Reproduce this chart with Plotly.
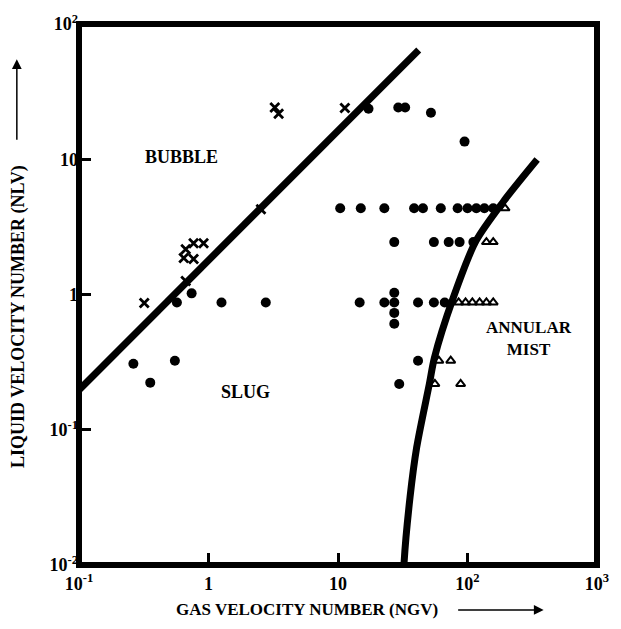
import plotly.graph_objects as go

# ---- data (NGV = gas velocity number, NLV = liquid velocity number)
slug_ngv = [0.263, 0.355, 0.55, 0.57, 0.741, 1.26, 2.77,
            14.7, 22.8, 27.2, 27.2, 27.2, 27.2, 41.5, 55.0, 66.7,
            41.5, 29.7,
            27.2, 55.0, 71.6, 86.9, 111,
            10.4, 15.0, 22.8, 38.7, 45.3, 62.2, 83.9, 100, 117, 135, 158,
            17.2, 29.2, 33.0, 52.2, 94.9]
slug_nlv = [0.308, 0.223, 0.324, 0.873, 1.02, 0.873, 0.873,
            0.873, 0.873, 1.03, 0.873, 0.731, 0.607, 0.873, 0.873, 0.873,
            0.324, 0.218,
            2.44, 2.44, 2.44, 2.44, 2.44,
            4.34, 4.34, 4.34, 4.34, 4.34, 4.34, 4.34, 4.34, 4.34, 4.34, 4.34,
            23.6, 24.1, 24.1, 22.1, 13.5]

bubble_ngv = [0.667, 0.767, 0.916, 0.644, 0.767, 0.667, 0.319, 2.54, 3.25, 3.48, 11.3]
bubble_nlv = [2.16, 2.39, 2.39, 1.86, 1.83, 1.26, 0.865, 4.27, 24.1, 21.7, 23.9]

annular_ngv = [195, 140, 158, 85.4, 96.6, 109, 124, 140, 158, 60.1, 74.2, 56.0, 88.5]
annular_nlv = [4.34, 2.44, 2.44, 0.873, 0.873, 0.873, 0.873, 0.873, 0.873,
               0.324, 0.324, 0.218, 0.218]

# boundary lines
bubble_slug_ngv = [0.1, 42.0]
bubble_slug_nlv = [0.197, 64.3]
slug_annular_ngv = [345, 190, 116, 77.5, 55.5, 50.8, 40.5, 36.0, 32.4, 32.3]
slug_annular_nlv = [9.95, 4.89, 2.48, 0.942, 0.340, 0.219, 0.074, 0.0317, 0.0105, 0.0095]

x_tickvals = [0.1, 1, 10, 100, 1000]
x_ticktext = ["10<sup>-1</sup>", "1", "10", "10<sup>2</sup>", "10<sup>3</sup>"]
y_tickvals = [0.01, 0.1, 1, 10, 100]
y_ticktext = ["10<sup>-2</sup>", "10<sup>-1</sup>", "1", "10", "10<sup>2</sup>"]

FONT = "Liberation Serif"

fig = go.Figure()
fig.add_trace(go.Scatter(x=bubble_slug_ngv, y=bubble_slug_nlv, mode="lines",
                         line=dict(color="black", width=7), hoverinfo="skip"))
fig.add_trace(go.Scatter(x=slug_annular_ngv, y=slug_annular_nlv, mode="lines",
                         line=dict(color="black", width=7, shape="spline", smoothing=0.8),
                         hoverinfo="skip"))
fig.add_trace(go.Scatter(x=slug_ngv, y=slug_nlv, mode="markers",
                         marker=dict(symbol="circle", size=10, color="black")))
fig.add_trace(go.Scatter(x=bubble_ngv, y=bubble_nlv, mode="markers",
                         marker=dict(symbol="x-thin-open", size=9, color="black",
                                     line=dict(color="black", width=2.8))))
fig.add_trace(go.Scatter(x=annular_ngv, y=annular_nlv, mode="markers",
                         marker=dict(symbol="triangle-up-open", size=8, color="black",
                                     line=dict(color="black", width=2))))

axis_common = dict(type="log", showgrid=False, zeroline=False, showline=False,
                   ticks="inside", ticklen=12, tickwidth=2.5, tickcolor="black",
                   tickfont=dict(family=FONT, size=18, color="black", weight="bold"))
fig.update_xaxes(range=[-1, 3], tickvals=x_tickvals, ticktext=x_ticktext,
                 ticklabelstandoff=6, **axis_common)
fig.update_yaxes(range=[-2, 2], tickvals=y_tickvals, ticktext=y_ticktext, **axis_common)

# frame
fig.add_shape(type="rect", xref="paper", yref="paper", x0=0, x1=1, y0=0, y1=1,
              line=dict(color="black", width=6), layer="above")

lab = dict(family=FONT, size=18, color="black", weight="bold")
for txt, x, y in [("BUBBLE", 0.198, 0.754), ("SLUG", 0.322, 0.320)]:
    fig.add_annotation(text=txt, x=x, y=y, xref="paper", yref="paper",
                       xanchor="center", yanchor="middle",
                       showarrow=False, font=lab)
fig.add_annotation(text="ANNULAR<br>MIST", x=0.868, y=0.419, xref="paper", yref="paper",
                   xanchor="center", yanchor="middle", showarrow=False,
                   font=dict(family=FONT, size=17, color="black", weight="bold"))

fig.add_annotation(text="GAS VELOCITY NUMBER (NGV)", x=0.44, y=-0.083,
                   xref="paper", yref="paper", xanchor="center", yanchor="middle",
                   showarrow=False, font=dict(family=FONT, size=17, color="black", weight="bold"))
fig.add_annotation(text="LIQUID VELOCITY NUMBER (NLV)", x=-0.118, y=0.46,
                   xref="paper", yref="paper", xanchor="center", yanchor="middle",
                   showarrow=False, font=dict(family=FONT, size=18, color="black", weight="bold"),
                   textangle=-90)
# arrows
fig.add_annotation(text="", x=0.897, y=-0.083, xref="paper", yref="paper",
                   showarrow=True, ax=-87, ay=0, arrowhead=2, arrowsize=1.3,
                   arrowwidth=1.5, arrowcolor="black")
fig.add_annotation(text="", x=-0.12, y=0.935, xref="paper", yref="paper",
                   showarrow=True, ax=0, ay=82, arrowhead=2, arrowsize=1.3,
                   arrowwidth=1.5, arrowcolor="black")

fig.update_layout(width=621, height=629, showlegend=False,
                  margin=dict(l=79, r=17, t=22, b=64),
                  paper_bgcolor="white", plot_bgcolor="white")
fig.write_html("out.html")
